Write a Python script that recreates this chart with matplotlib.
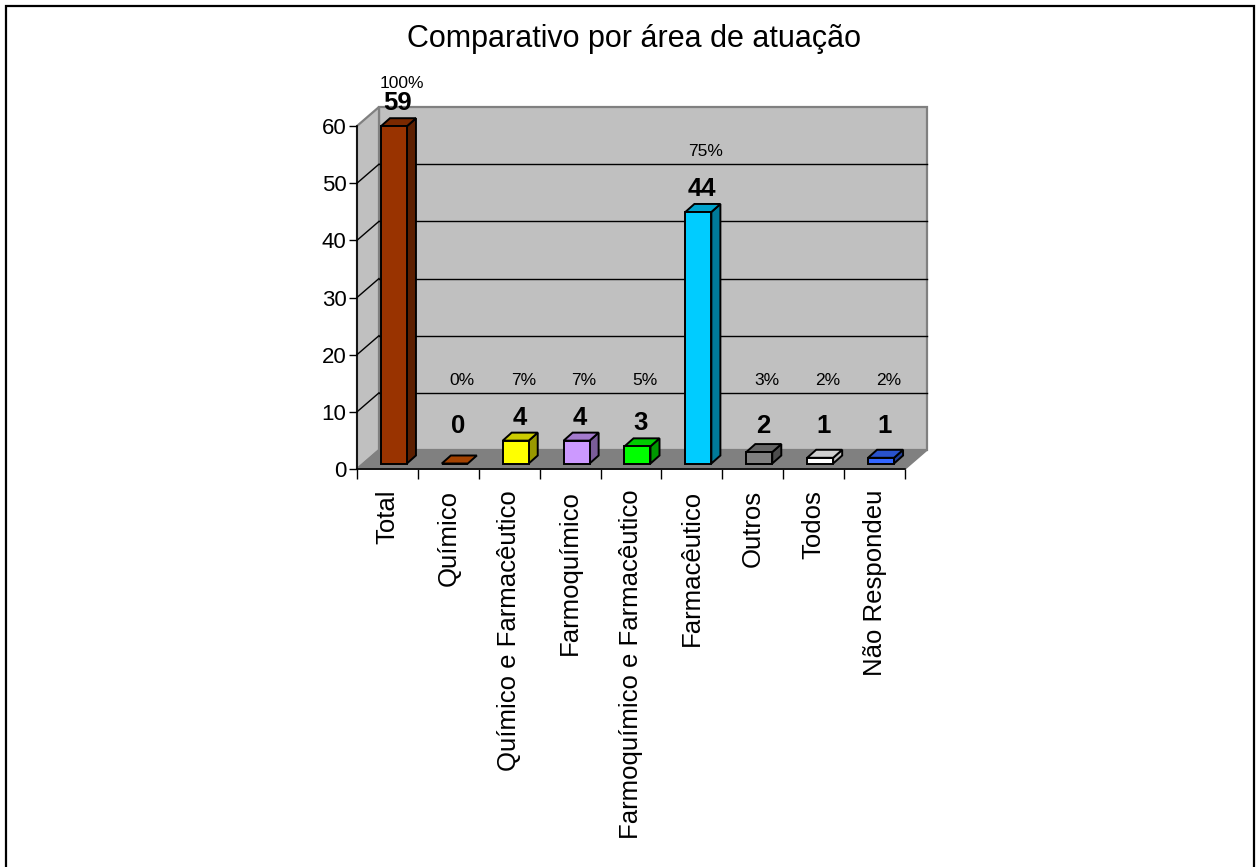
import matplotlib
matplotlib.use("Agg")
import matplotlib.pyplot as plt
from matplotlib.patches import Polygon, Rectangle
import numpy as np

plt.rcParams["font.family"] = ["Liberation Sans", "DejaVu Sans"]

# data
categories = ["Total", "Químico", "Químico e Farmacêutico", "Farmoquímico",
              "Farmoquímico e Farmacêutico", "Farmacêutico", "Outros", "Todos",
              "Não Respondeu"]
counts = [59, 0, 4, 4, 3, 44, 2, 1, 1]
bar_colors = ["#993300", "#cc5200", "#ffff00", "#cc99ff", "#00ff00",
              "#00ccff", "#808080", "#ffffff", "#3366ff"]

W, H = 1256, 867
fig = plt.figure(figsize=(W / 100, H / 100), dpi=100)

# outer frame of the chart area
fig.patches.append(Rectangle((6 / W, -0.01), 1248 / W, 1 - 6 / H + 0.01,
                             transform=fig.transFigure, fill=False,
                             edgecolor="black", linewidth=1.6))

fig.text(634 / W, 1 - 47 / H, "Comparativo por área de atuação",
         ha="center", va="baseline", fontsize=22)

# front plane of the plot box
ax = fig.add_axes([357 / W, 1 - 469 / H, (905 - 357) / W, (469 - 126) / H])
n = len(categories)
ax.set_xlim(0, n)
ax.set_ylim(0, 60)
ax.patch.set_visible(False)

# depth of the 3D box and of the bars, in data units
DX, DY = 22 / 60.9, 19 / 5.717
bw, bdx, bdy = 0.427, 0.148, 1.4

wall = "#c0c0c0"
edge = "#808080"

# back wall
ax.add_patch(Polygon([(DX, DY), (n + DX, DY), (n + DX, 60 + DY), (DX, 60 + DY)],
                     closed=True, facecolor=wall, edgecolor=edge, lw=1.6,
                     clip_on=False, zorder=1))
# side wall
ax.add_patch(Polygon([(0, 0), (DX, DY), (DX, 60 + DY), (0, 60)],
                     closed=True, facecolor=wall, edgecolor=edge, lw=1.6,
                     clip_on=False, zorder=1))
# gridlines on back and side walls
for v in range(10, 60, 10):
    ax.plot([DX, n + DX], [v + DY, v + DY], color="black", lw=1.0,
            clip_on=False, zorder=2)
    ax.plot([0, DX], [v, v + DY], color="black", lw=1.0,
            clip_on=False, zorder=2)
# floor
ax.add_patch(Polygon([(0, 0), (n, 0), (n + DX, DY), (DX, DY)],
                     closed=True, facecolor="#808080", edgecolor=edge, lw=1.2,
                     clip_on=False, zorder=2))


def shade(c, f):
    r, g, b = matplotlib.colors.to_rgb(c)
    return (r * f, g * f, b * f)


x = np.arange(n)
x0 = x + (1 - bw) / 2 + (DX - bdx) / 2
y0 = (DY - bdy) / 2
for i in range(n):
    xl, v = x0[i], counts[i]
    c = bar_colors[i]
    top = [(xl, y0 + v), (xl + bw, y0 + v), (xl + bw + bdx, y0 + v + bdy),
           (xl + bdx, y0 + v + bdy)]
    side = [(xl + bw, y0), (xl + bw + bdx, y0 + bdy),
            (xl + bw + bdx, y0 + v + bdy), (xl + bw, y0 + v)]
    top_c = shade(c, 0.8) if c != "#ffffff" else "#d0d0d0"
    side_c = shade(c, 0.6) if c != "#ffffff" else "#c0c0c0"
    if v > 0:
        ax.add_patch(Polygon(side, closed=True, facecolor=side_c,
                             edgecolor="black", lw=1.4, zorder=4,
                             clip_on=False))
    ax.add_patch(Polygon(top, closed=True, facecolor=top_c,
                         edgecolor="black", lw=1.4, zorder=4, clip_on=False))

ax.bar(x0, counts, width=bw, bottom=y0, align="edge", color=bar_colors,
       edgecolor="black", linewidth=1.4, zorder=5, clip_on=False)

# labels: count (bold) and share of the total
total = counts[0]
for i, v in enumerate(counts):
    ax.text(i + 0.5 + 0.165, max(v + 5, 7.5), str(v), ha="center",
            va="center", fontsize=18.5, fontweight="bold", zorder=6,
            clip_on=False)
    ax.text(i + 0.5 + 0.23, min(max(v + 11.5, 15.4), 67.5),
            f"{round(v / total * 100)}%", ha="center", va="center",
            fontsize=12.5, zorder=6, clip_on=False)

# axes, ticks and tick labels
for s in ["top", "right"]:
    ax.spines[s].set_visible(False)
ax.spines["left"].set_linewidth(1.2)
ax.spines["bottom"].set_linewidth(1.2)
ax.spines["left"].set_zorder(7)
ax.spines["bottom"].set_zorder(7)

ax.set_yticks(range(0, 61, 10))
ax.tick_params(axis="y", direction="out", length=6, width=1, pad=1.5,
               labelsize=16)
ax.set_xticks(range(n + 1))
ax.set_xticklabels([])
ax.tick_params(axis="x", which="major", direction="out", length=7, width=1)
ax.set_xticks(np.arange(n) + 0.5, minor=True)
ax.set_xticklabels(categories, minor=True, rotation=90, ha="center",
                   va="top", fontsize=18.5)
ax.tick_params(axis="x", which="minor", length=0, pad=15)

fig.savefig("out.png", dpi=100)
